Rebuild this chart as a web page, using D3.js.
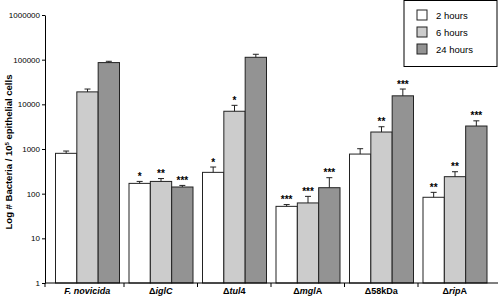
<!DOCTYPE html>
<html>
<head>
<meta charset="utf-8">
<script src="https://cdn.jsdelivr.net/npm/d3@7"></script>
<style>
  body { margin: 0; background: #fff; }
  svg { display: block; font-family: "Liberation Sans", Arial, sans-serif; }
</style>
</head>
<body>
<div id="chart"></div>
<script>
// Data
const categories = ["F. novicida", "ΔiglC", "Δtul4", "ΔmglA", "Δ58kDa", "ΔripA"];
const series = ["2 hours", "6 hours", "24 hours"];
const hours2 = [800, 170, 300, 52, 770, 83];
const hours6 = [19000, 188, 7000, 62, 2400, 240];
const hours24 = [86000, 141, 113000, 136, 15500, 3270];
const err2 = [100, 18, 95, 5, 245, 24];
const err6 = [3000, 30, 2500, 25, 750, 70];
const err24 = [6000, 12, 19000, 92, 6500, 1000];
const stars2 = ["", "*", "*", "***", "", "**"];
const stars6 = ["", "**", "*", "***", "**", "**"];
const stars24 = ["", "***", "", "***", "***", "***"];
const tickValues = [1, 10, 100, 1000, 10000, 100000, 1000000];
const colors = ["#ffffff", "#cccccc", "#939393"];

// label pieces: [text, italic]
const labelParts = [
  [["F. novicida", true]],
  [["Δ", false], ["iglC", true]],
  [["Δ", false], ["tul", true], ["4", false]],
  [["Δ", false], ["mgl", true], ["A", false]],
  [["Δ58kDa", false]],
  [["Δ", false], ["rip", true], ["A", false]]
];

const values = [hours2, hours6, hours24];
const errs = [err2, err6, err24];
const stars = [stars2, stars6, stars24];

const rows = [];
categories.forEach((c, i) => {
  series.forEach((s, j) => {
    rows.push({ cat: c, series: s, value: values[j][i], err: errs[j][i], star: stars[j][i] });
  });
});

const width = 500, height = 297;
const svg = d3.select("#chart").append("svg").attr("width", width).attr("height", height);

const axisX = 45, axisRight = 498;
const y = d3.scaleLog().domain([1, 1000000]).range([283, 15]);
const x0 = d3.scaleBand().domain(categories).range([50.5, 491.5]).paddingInner(0).paddingOuter(0);
const x1 = d3.scaleBand().domain(series).range([5, x0.bandwidth() - 4.5]).padding(0);

// y axis
const yAxis = svg.append("g")
  .attr("transform", `translate(${axisX},0)`)
  .call(d3.axisLeft(y).tickValues(tickValues).tickFormat(d3.format("d")).tickSize(3).tickSizeOuter(0));
yAxis.select(".domain").attr("stroke", "#000");
yAxis.selectAll("text").attr("font-size", 8).attr("fill", "#000").attr("x", -5)
  .attr("font-family", "'Liberation Sans', Arial, sans-serif");

// bars
const bars = svg.append("g");
bars.selectAll("rect")
  .data(rows)
  .join("rect")
  .attr("x", d => x0(d.cat) + x1(d.series))
  .attr("width", x1.bandwidth())
  .attr("y", d => y(d.value))
  .attr("height", d => y(1) - y(d.value))
  .attr("fill", d => colors[series.indexOf(d.series)])
  .attr("stroke", "#222")
  .attr("stroke-width", 1);

// error bars
const eb = svg.append("g").attr("stroke", "#222").attr("stroke-width", 1);
rows.forEach(d => {
  const cx = x0(d.cat) + x1(d.series) + x1.bandwidth() / 2;
  const top = y(d.value + d.err);
  eb.append("line").attr("x1", cx).attr("x2", cx).attr("y1", y(d.value)).attr("y2", top);
  eb.append("line").attr("x1", cx - 3).attr("x2", cx + 3).attr("y1", top).attr("y2", top);
});

// significance stars
svg.append("g").selectAll("text")
  .data(rows.filter(d => d.star))
  .join("text")
  .attr("x", d => x0(d.cat) + x1(d.series) + x1.bandwidth() / 2)
  .attr("y", d => y(d.value + d.err) - 1.5)
  .attr("text-anchor", "middle")
  .attr("font-size", 10)
  .attr("font-weight", "bold")
  .attr("fill", "#000")
  .text(d => d.star);

// x axis
svg.append("line").attr("x1", axisX).attr("x2", axisRight).attr("y1", 283).attr("y2", 283)
  .attr("stroke", "#000");
const seps = [axisX].concat(categories.slice(1).map(c => x0(c)));
svg.append("g").selectAll("line")
  .data(seps)
  .join("line")
  .attr("x1", d => d).attr("x2", d => d)
  .attr("y1", 283).attr("y2", 287)
  .attr("stroke", "#000");

const xl = svg.append("g").selectAll("text")
  .data(categories)
  .join("text")
  .attr("x", d => x0(d) + x0.bandwidth() / 2)
  .attr("y", 294)
  .attr("text-anchor", "middle")
  .attr("font-size", 9)
  .attr("font-weight", "bold");
xl.each(function(d, i) {
  const t = d3.select(this);
  labelParts[i].forEach(p => {
    t.append("tspan").attr("font-style", p[1] ? "italic" : "normal").text(p[0]);
  });
});

// y axis title
const yt = svg.append("text")
  .attr("transform", "translate(12,152) rotate(-90)")
  .attr("text-anchor", "middle")
  .attr("font-size", 9.5)
  .attr("font-weight", "bold");
yt.append("tspan").text("Log # Bacteria / 10");
yt.append("tspan").attr("font-size", 6).attr("dy", -3.5).text("5");
yt.append("tspan").attr("dy", 3.5).text(" epithelial cells");

// legend
const lg = svg.append("g");
lg.append("rect").attr("x", 404).attr("y", 0.5).attr("width", 93).attr("height", 66)
  .attr("fill", "#fff").attr("stroke", "#000");
series.forEach((s, j) => {
  const ly = 15 + j * 17;
  lg.append("rect").attr("x", 417).attr("y", ly - 5).attr("width", 10).attr("height", 10)
    .attr("fill", colors[j]).attr("stroke", "#222");
  lg.append("text").attr("x", 436).attr("y", ly + 3.5).attr("font-size", 9.5).text(s);
});
</script>
</body>
</html>
